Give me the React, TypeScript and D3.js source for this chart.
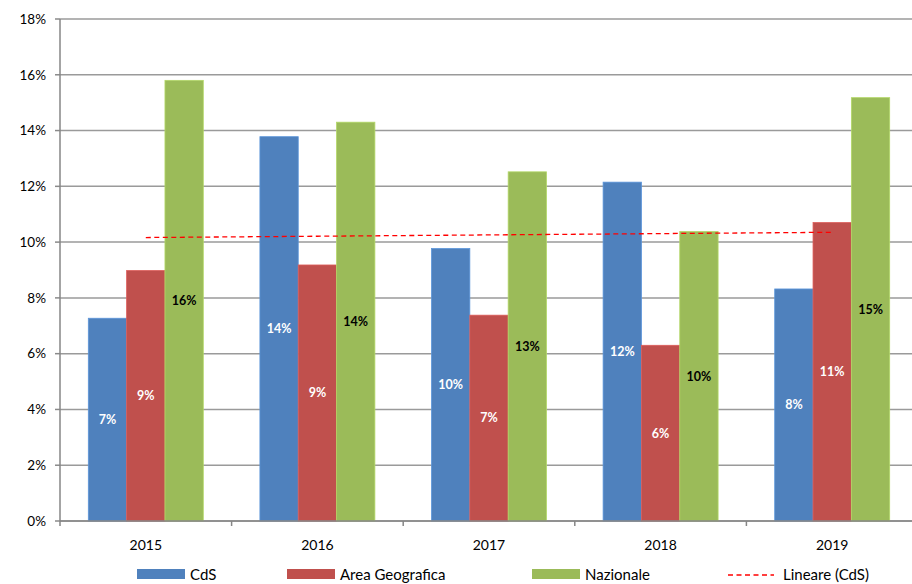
import React from "react";
import * as d3 from "d3";

const years = ["2015", "2016", "2017", "2018", "2019"];
const seriesNames = ["CdS", "Area Geografica", "Nazionale"];
const cds = [7.27, 13.78, 9.77, 12.15, 8.32];
const area = [8.98, 9.18, 7.38, 6.3, 10.7];
const nazionale = [15.8, 14.3, 12.52, 10.38, 15.18];
const yTicks = [0, 2, 4, 6, 8, 10, 12, 14, 16, 18];
const colors = ["#4F81BD", "#C0504D", "#9BBB59"];
const labelColors = ["#ffffff", "#ffffff", "#000000"];
const trendName = "Lineare (CdS)";

export default function App() {
  const W = 912, H = 584;
  const left = 60, right = 918, top = 19, bottom = 521;
  const font = "Lato, 'Open Sans', sans-serif";
  const series = [cds, area, nazionale];

  const x = d3.scaleBand<string>().domain(years).range([left, right]).paddingInner(0.33).paddingOuter(0.165);
  const outer = d3.scaleBand<string>().domain(years).range([left, right]);
  const inner = d3.scaleBand<string>().domain(seriesNames).range([0, x.bandwidth()]);
  const y = d3.scaleLinear().domain([0, 18]).range([bottom, top]);

  // linear trend of CdS
  const xs = cds.map((_, i) => i + 1);
  const mx = d3.mean(xs)!;
  const my = d3.mean(cds)!;
  const slope = d3.sum(xs.map((xi, i) => (xi - mx) * (cds[i] - my))) / d3.sum(xs.map((xi) => (xi - mx) ** 2));
  const icpt = my - slope * mx;
  const trend = years.map((yr, i) => ({ yr, v: icpt + slope * (i + 1) }));
  const line = d3
    .line<{ yr: string; v: number }>()
    .x((d) => outer(d.yr)! + outer.bandwidth() / 2)
    .y((d) => y(d.v));

  const legendItems = [
    { name: seriesNames[0], sx: 137, tx: 190, c: colors[0] },
    { name: seriesNames[1], sx: 287, tx: 340, c: colors[1] },
    { name: seriesNames[2], sx: 532, tx: 585, c: colors[2] },
  ];

  return (
    <svg width={W} height={H} style={{ position: "absolute", left: 0, top: 0, background: "#fff" }} fontFamily={font}>
      {yTicks.map((t) => (
        <g key={t}>
          <line x1={left} x2={W} y1={y(t)} y2={y(t)} stroke="#9a9a9a" strokeWidth={1.5} />
          <line x1={left - 5} x2={left} y1={y(t)} y2={y(t)} stroke="#8a8a8a" strokeWidth={1.5} />
          <text x={46} y={y(t)} dy="0.35em" textAnchor="end" fontSize={13.5} fill="#000">
            {t}%
          </text>
        </g>
      ))}
      {series.map((vals, si) =>
        years.map((yr, i) => {
          const bx = x(yr)! + inner(seriesNames[si])!;
          const by = y(vals[i]);
          return (
            <rect
              key={si + "-" + yr}
              x={bx}
              y={by}
              width={inner.bandwidth()}
              height={bottom - by}
              fill={colors[si]}
              stroke={d3.color(colors[si])!.brighter(0.4).toString()}
              strokeWidth={0.8}
            />
          );
        })
      )}
      <line x1={left} x2={left} y1={top} y2={bottom} stroke="#868686" strokeWidth={1.5} />
      <line x1={left} x2={W} y1={bottom} y2={bottom} stroke="#868686" strokeWidth={1.5} />
      {years.map((yr) => (
        <line key={"t" + yr} x1={outer(yr)!} x2={outer(yr)!} y1={bottom} y2={bottom + 5} stroke="#868686" strokeWidth={1.5} />
      ))}
      <line x1={right} x2={right} y1={bottom} y2={bottom + 5} stroke="#868686" strokeWidth={1.5} />
      {years.map((yr) => (
        <text key={"l" + yr} x={outer(yr)! + outer.bandwidth() / 2} y={545} dy="0.35em" textAnchor="middle" fontSize={14} fill="#000">
          {yr}
        </text>
      ))}
      {series.map((vals, si) =>
        years.map((yr, i) => {
          const bx = x(yr)! + inner(seriesNames[si])! + inner.bandwidth() / 2;
          const by = (y(vals[i]) + bottom) / 2;
          return (
            <text
              key={"v" + si + yr}
              x={bx}
              y={by}
              dy="0.35em"
              textAnchor="middle"
              fontSize={12.5}
              fontWeight="bold"
              fill={labelColors[si]}
            >
              {d3.format(".0f")(vals[i])}%
            </text>
          );
        })
      )}
      <path d={line(trend)!} fill="none" stroke="#FF0000" strokeWidth={1.3} strokeDasharray="5,3.5" />
      {legendItems.map((it) => (
        <g key={it.name}>
          <rect x={it.sx} y={569} width={48} height={10} fill={it.c} />
          <text x={it.tx} y={575} dy="0.35em" fontSize={15} fill="#000">
            {it.name}
          </text>
        </g>
      ))}
      <line x1={728} x2={774} y1={575} y2={575} stroke="#FF0000" strokeWidth={1.3} strokeDasharray="5,3.5" />
      <text x={783} y={575} dy="0.35em" fontSize={15} fill="#000">
        {trendName}
      </text>
    </svg>
  );
}
